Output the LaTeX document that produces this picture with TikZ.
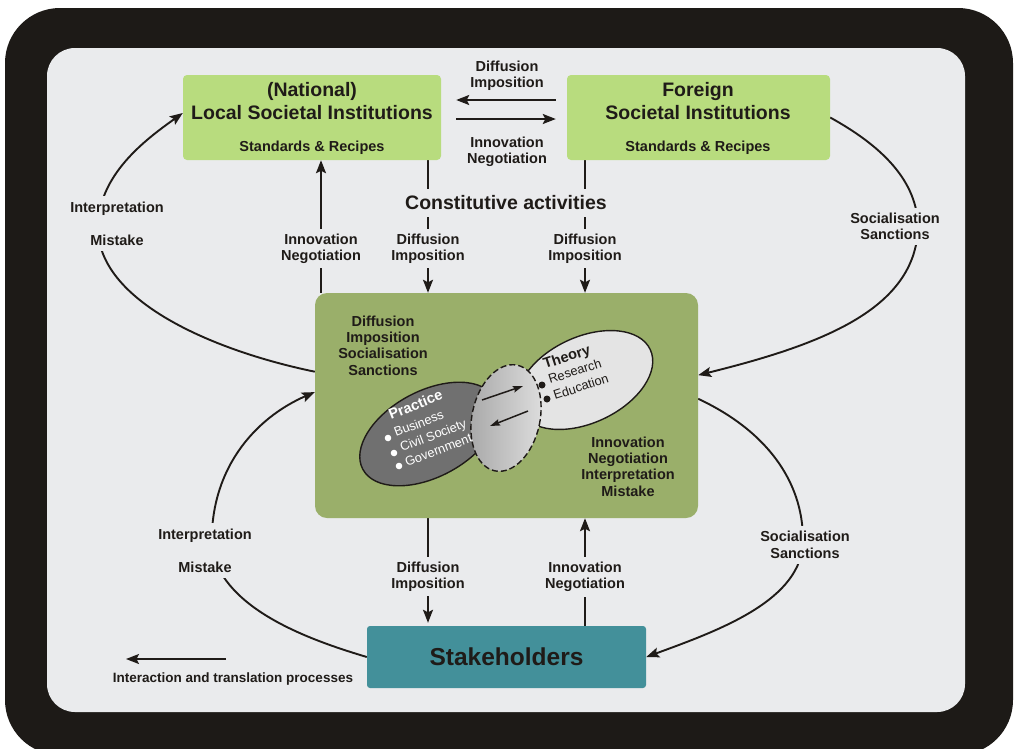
\documentclass[tikz,border=0pt]{standalone}
\usepackage{fontspec}
\setmainfont{Liberation Sans}
\usetikzlibrary{shapes.geometric,arrows.meta}

\definecolor{pagebg}{HTML}{EAEBED}
\definecolor{framedark}{HTML}{1D1A17}
\definecolor{instgreen}{HTML}{B8DC7E}
\definecolor{fieldgreen}{HTML}{9AAF6A}
\definecolor{staketeal}{HTML}{43909A}
\definecolor{ink}{HTML}{1F1B18}
\definecolor{practicegray}{HTML}{707070}
\definecolor{theorygray}{HTML}{E4E4E4}

\newcommand\fntTitle{\fontsize{19.5}{23}\selectfont\bfseries}
\newcommand\fntLabel{\fontsize{14.5}{16.4}\selectfont\bfseries}
\newcommand\fntWideLabel{\fontsize{14.5}{33}\selectfont\bfseries}
\newcommand\fntStake{\fontsize{24.5}{28}\selectfont\bfseries}
\newcommand\fntLegend{\fontsize{13.5}{16}\selectfont\bfseries}
\newcommand\fntItem{\fontsize{12.8}{15}\selectfont}
\newcommand\fntHead{\fontsize{14.5}{17}\selectfont\bfseries}

\pgfdeclarelayer{back}
\pgfdeclarelayer{edges}
\pgfsetlayers{back,edges,main}

\tikzset{
  flow/.style={line width=1.9pt, draw=ink, -{Stealth[length=13pt,width=10pt,inset=2.5pt]}},
  lbl/.style={font=\fntLabel, text=ink, align=center, inner xsep=3pt},
  gaplbl/.style={lbl, fill=pagebg, inner ysep=5pt},
  inst/.style={fill=instgreen, rounded corners=4pt, minimum width=258, minimum height=85, inner sep=0},
  title/.style={font=\fntTitle, text=ink, anchor=base, inner sep=0},
  recipe/.style={font=\fntLabel, text=ink, anchor=base, inner sep=0},
  blob/.style={ellipse, draw=ink, line width=1.4pt, inner sep=0},
  itemtxt/.style={anchor=base west, font=\fntItem, inner sep=0},
  headtxt/.style={anchor=base west, font=\fntHead, inner sep=0},
  smallflow/.style={line width=1.5pt, draw=ink, -{Stealth[length=10pt,width=6.5pt,inset=1.5pt]}},
}

\begin{document}
\begin{tikzpicture}[x=1pt,y=-1pt]
\useasboundingbox (0,0) rectangle (1015,748);

% frame and canvas
\begin{pgfonlayer}{back}
  \fill[white] (0,0) rectangle (1015,748);
  \begin{scope}
    \clip (0,0) rectangle (1015,748);
    \fill[framedark, rounded corners=55] (5,8) rectangle (1013,755);
  \end{scope}
  \fill[pagebg, rounded corners=28] (47,48) rectangle (965,712);
\end{pgfonlayer}

% institution boxes
\node[inst] (local) at (312,117.5) {};
\node[inst, minimum width=263] (foreign) at (698.5,117.5) {};
\node[title] (localA) at (312,96) {(National)};
\node[title] (localB) at (312,119) {Local Societal Institutions};
\node[recipe] (localC) at (312,151) {Standards \& Recipes};
\node[title] (foreignA) at (698,96) {Foreign};
\node[title] (foreignB) at (698,119) {Societal Institutions};
\node[recipe] (foreignC) at (698,151) {Standards \& Recipes};

% field of practice and theory
\node[fill=fieldgreen, rounded corners=12pt, minimum width=383, minimum height=225, inner sep=0] (field) at (506.5,405.5) {};

% stakeholders
\node[fill=staketeal, rounded corners=3pt, minimum width=279, minimum height=62, inner sep=0, font=\fntStake, text=ink] (stake) at (506.5,657) {Stakeholders};

% labels
\node[lbl] (topdi) at (507,76) {Diffusion\\Imposition};
\node[lbl] (topin) at (507,151.5) {Innovation\\Negotiation};
\node[font=\fntTitle, text=ink, fill=pagebg, inner xsep=4pt, inner ysep=6.5pt] (const) at (506,203) {Constitutive activities};
\node[gaplbl] (dl) at (428,248.5) {Diffusion\\Imposition};
\node[gaplbl] (df) at (585,248.5) {Diffusion\\Imposition};
\node[gaplbl] (il) at (321,248.5) {Innovation\\Negotiation};
\node[gaplbl] (ds) at (428,576.5) {Diffusion\\Imposition};
\node[gaplbl] (is) at (585,576.5) {Innovation\\Negotiation};
\node[gaplbl, font=\fntWideLabel, inner ysep=6pt] (ltlab) at (117,223.5) {Interpretation\\Mistake};
\node[gaplbl, font=\fntWideLabel, inner ysep=6pt] (lblab) at (205,550.5) {Interpretation\\Mistake};
\node[gaplbl] (rtlab) at (895,226.5) {Socialisation\\Sanctions};
\node[gaplbl] (rblab) at (805,545) {Socialisation\\Sanctions};
\node[lbl] (fieldL) at (383,345.5) {Diffusion\\Imposition\\Socialisation\\Sanctions};
\node[lbl] (fieldR) at (628,466.5) {Innovation\\Negotiation\\Interpretation\\Mistake};

% connectors
\begin{pgfonlayer}{edges}
  \draw[flow, shorten <=11pt, shorten >=15pt] ([yshift=17.5pt]foreign.west) -- ([yshift=17.5pt]local.east);
  \draw[flow, shorten <=15pt, shorten >=11pt] ([yshift=-1.5pt]local.east) -- ([yshift=-1.5pt]foreign.west);
  \draw[flow] (local.south -| dl) -- (field.north -| dl);
  \draw[flow] (foreign.south -| df) -- (field.north -| df);
  \draw[flow] (field.north -| il) -- (local.south -| il);
  \draw[flow, shorten >=3pt] (field.south -| ds) -- (stake.north -| ds);
  \draw[flow] (stake.north -| is) -- (field.south -| is);
  \draw[flow] (field.170) .. controls (210,350) and (98,300) .. (98,228)
                          .. controls (98,175) and (145,140) .. (local.178);
  \draw[flow] (stake.west) .. controls (310,640) and (225,610) .. (212,550)
                           .. controls (208,470) and (255,418) .. (field.176);
  \draw[flow] (foreign.east) .. controls (880,145) and (918,180) .. (918,228)
                             .. controls (915,310) and (820,345) .. (field.9);
  \draw[flow] (field.2.5) .. controls (765,430) and (803,480) .. (803,540)
                          .. controls (803,600) and (720,630) .. (stake.east);
\end{pgfonlayer}

% practice, theory and the link between them
\node[blob, fill=practicegray, minimum width=150, minimum height=86, rotate=28] (practice) at (429,434) {};
\node[blob, fill=theorygray, minimum width=144, minimum height=86, rotate=25] (theory) at (585,380) {};
\node[blob, dash pattern=on 6pt off 3pt, left color=gray!85!black!60, right color=gray!25, minimum width=68, minimum height=108, rotate=-12] (link) at (506,418) {};
\coordinate (toTheoryA) at (482,400);
\coordinate (toTheoryB) at (523,386);
\coordinate (toPracticeA) at (528,411);
\coordinate (toPracticeB) at (490,426);
\draw[smallflow] (toTheoryA) -- (toTheoryB);
\draw[smallflow] (toPracticeA) -- (toPracticeB);

\node[headtxt, rotate=22, text=white] (pracHead) at (391,420) {Practice};
\node[itemtxt, rotate=21, text=white] (pracA) at (396,437) {Business};
\node[itemtxt, rotate=21, text=white] (pracB) at (402,452) {Civil Society};
\node[itemtxt, rotate=21, text=white] (pracC) at (407,467) {Government};
\fill[white] (388,438) circle[radius=3.3pt];
\fill[white] (394,453) circle[radius=3.3pt];
\fill[white] (399,466) circle[radius=3.3pt];

\node[headtxt, rotate=18, text=ink] (theoHead) at (545,369) {Theory};
\node[itemtxt, rotate=18, text=ink] (theoA) at (550,384) {Research};
\node[itemtxt, rotate=18, text=ink] (theoB) at (555,400) {Education};
\fill[ink] (542,385) circle[radius=3.5pt];
\fill[ink] (547,399) circle[radius=3.5pt];

% legend
\coordinate (legA) at (226,659);
\coordinate (legB) at (126,659);
\draw[flow] (legA) -- (legB);
\node[font=\fntLegend, text=ink] (legtext) at (233,679) {Interaction and translation processes};
\end{tikzpicture}
\end{document}
